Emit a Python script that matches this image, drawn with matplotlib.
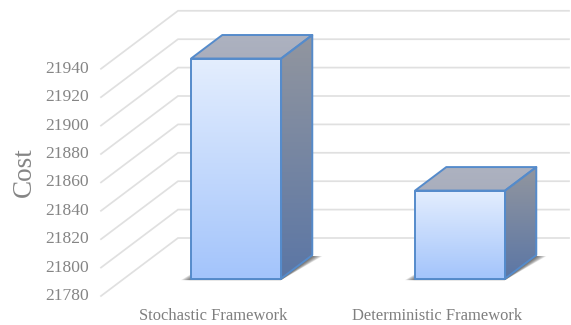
import numpy as np
import matplotlib
matplotlib.use("Agg")
import matplotlib.pyplot as plt
from matplotlib.colors import LinearSegmentedColormap
from matplotlib.patches import Polygon

plt.rcParams['font.family'] = ['Liberation Serif', 'DejaVu Serif']

categories = ["Stochastic Framework", "Deterministic Framework"]
costs = [21935, 21842]
ticks = [21780, 21800, 21820, 21840, 21860, 21880, 21900, 21920, 21940]

W, H = 571, 325
PX_PER_CAT = 224.0
PX_PER_VAL = 1.42
X0_PX, Y0_PX = 213.0, 296.0
FLOOR_DX, FLOOR_DY = 77.0, 58.0     # full depth of the chart floor, in pixels
BAR_HALF = 45.0                     # half the bar's front width, in pixels
BAR_NEAR, BAR_FAR = 0.30, 0.705     # bar's front and back as a share of the depth

fig = plt.figure(figsize=(W / 100, H / 100), dpi=100, facecolor="white")
ax = fig.add_axes([0, 0, 1, 1])
xlim = (-X0_PX / PX_PER_CAT, (W - X0_PX) / PX_PER_CAT)
ylim = (ticks[0] - (H - Y0_PX) / PX_PER_VAL, ticks[0] + Y0_PX / PX_PER_VAL)
ax.axis("off")

dx_cat = FLOOR_DX / PX_PER_CAT
dy_val = FLOOR_DY / PX_PER_VAL
half = BAR_HALF / PX_PER_CAT


def project(x, value, depth):
    """Oblique projection of a point at a given depth into axes data space."""
    return x + depth * dx_cat, value + depth * dy_val


def gradient(poly_pts, top, bottom, zorder):
    """Fill a polygon with a vertical two-colour gradient."""
    pts = np.array(poly_pts)
    x0, x1 = pts[:, 0].min(), pts[:, 0].max()
    y0, y1 = pts[:, 1].min(), pts[:, 1].max()
    cmap = LinearSegmentedColormap.from_list("g", [bottom, top])
    im = ax.imshow(np.linspace(0, 1, 256).reshape(-1, 1), cmap=cmap, origin="lower",
                   extent=[x0, x1, y0, y1], aspect="auto", zorder=zorder,
                   interpolation="bilinear")
    clip = Polygon(pts, closed=True, transform=ax.transData, fc="none", ec="none")
    ax.add_patch(clip)
    im.set_clip_path(clip)


# Receding gridlines with their tick labels
GRID = "#e0e0e0"
left_x = xlim[0] + 101 / PX_PER_CAT
right_x = xlim[0] + 569 / PX_PER_CAT
for t in ticks:
    bx, by = project(left_x, t, 1.0)
    ax.plot([left_x, bx, right_x], [t, by, by], color=GRID, lw=1.25, zorder=1,
            solid_joinstyle="miter")
    ax.text(left_x - 12.5 / PX_PER_CAT, t, str(t), ha="right", va="center",
            fontsize=12.6, color="#858585", zorder=5)

ax.text(xlim[0] + 24 / PX_PER_CAT, ticks[0] + (296 - 172) / PX_PER_VAL, "Cost",
        rotation=90, ha="center", va="center", fontsize=19.5, color="#858585", zorder=5)

BLUE = "#558bcb"
for i, (name, cost) in enumerate(zip(categories, costs)):
    base = ticks[0]
    near = lambda x, v: project(x, v, BAR_NEAR)
    far = lambda x, v: project(x, v, BAR_FAR)

    # Soft floor shadow, built from stacked translucent layers
    for grow in np.linspace(0.1, 1, 8):
        g = grow * 10 / PX_PER_CAT
        shadow = [near(i - half - g, base - 1.5 / PX_PER_VAL), near(i + half, base - 1.5 / PX_PER_VAL),
                  far(i + half + g, base - 1 / PX_PER_VAL), far(i - half, base)]
        ax.add_patch(Polygon(shadow, closed=True, fc="#303030", ec="none",
                             alpha=0.12, zorder=2))

    a, b = near(i - half, base), near(i + half, base)
    c, d = near(i + half, cost), near(i - half, cost)
    e, f = far(i + half, cost), far(i - half, cost)
    g_ = far(i + half, base)

    gradient([b, g_, e, c], "#92969f", "#5b76a5", 3)
    gradient([d, c, e, f], "#adb2c0", "#a9aebd", 3)
    gradient([a, b, c, d], "#e4eefe", "#a3c4fb", 3)

    for pts in ([a, b, c, d], [b, g_, e, c], [d, c, e, f]):
        ax.add_patch(Polygon(pts, closed=True, fc="none", ec=BLUE, lw=1.4, zorder=4,
                             joinstyle="round"))

    # Category label sits under the floor's front edge
    ax.text(i, base - 19.5 / PX_PER_VAL, name, ha="center", va="center",
            fontsize=11.9, color="#7f7f7f", zorder=5)

ax.set_xlim(xlim)
ax.set_ylim(ylim)
fig.savefig("out.png", dpi=100, facecolor="white")
